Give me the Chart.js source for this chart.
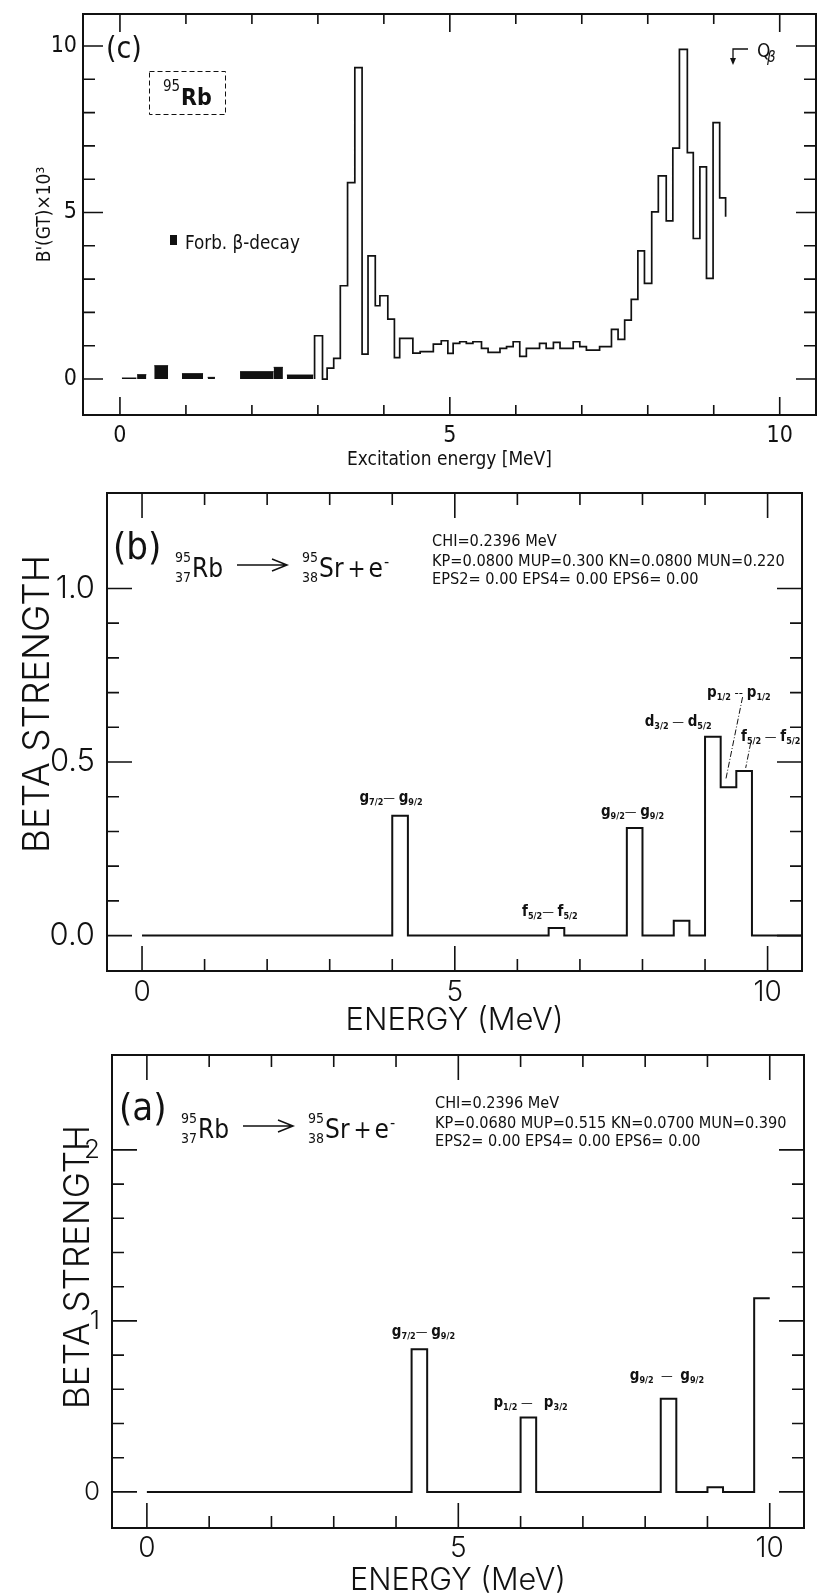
<!DOCTYPE html>
<html>
<head>
<meta charset="utf-8">
<script src="https://cdn.jsdelivr.net/npm/chart.js@4.4.1/dist/chart.umd.min.js"></script>
<style>
  html, body { margin: 0; padding: 0; background: #fff; }
  #page { position: relative; width: 817px; height: 1595px; overflow: hidden; background: #fff; }
  canvas { position: absolute; left: 0; }
</style>
</head>
<body>
<div id="page">
  <canvas id="panelC" width="817" height="480" style="top:0px"></canvas>
  <canvas id="panelB" width="817" height="575" style="top:470px"></canvas>
  <canvas id="panelA" width="817" height="560" style="top:1035px"></canvas>
</div>
<script>
// ---- data ----
const energyTicks = [0, 1, 2, 3, 4, 5, 6, 7, 8, 9, 10];
const energyLabels = [0, 5, 10];

// (c) measured B'(GT) x 10^3, forbidden part as filled blocks
const forbStart = [0.03, 0.26, 0.52, 0.94, 1.33, 1.82, 2.33, 2.53];
const forbEnd = [0.25, 0.40, 0.73, 1.26, 1.44, 2.33, 2.47, 2.93];
const forbStrength = [0.03, 0.13, 0.40, 0.16, 0.05, 0.22, 0.35, 0.12];

const gtEdges = [2.95, 3.07, 3.14, 3.24, 3.34, 3.45, 3.56, 3.67, 3.76, 3.87,
  3.94, 4.06, 4.16, 4.24, 4.44, 4.55, 4.75, 4.87, 4.97, 5.05,
  5.15, 5.25, 5.35, 5.48, 5.58, 5.76, 5.86, 5.96, 6.06, 6.16,
  6.36, 6.46, 6.57, 6.67, 6.87, 6.97, 7.07, 7.27, 7.45, 7.55,
  7.65, 7.75, 7.85, 7.95, 8.06, 8.16, 8.28, 8.38, 8.48, 8.6,
  8.69, 8.79, 8.89, 8.99, 9.09, 9.18];
const gtStrength = [1.3, 0, 0.33, 0.62, 2.8, 5.9, 9.35, 0.75, 3.7, 2.2,
  2.5, 1.8, 0.64, 1.22, 0.78, 0.82, 1.05, 1.15, 0.77, 1.07,
  1.12, 1.07, 1.12, 0.92, 0.8, 0.92, 0.97, 1.12, 0.68, 0.92,
  1.07, 0.92, 1.1, 0.92, 1.12, 0.97, 0.87, 0.97, 1.49, 1.19,
  1.77, 2.39, 3.85, 2.87, 5.02, 6.1, 4.75, 6.93, 9.9, 6.8,
  4.22, 6.37, 3.02, 7.7, 5.44];
const gtEnd = 4.87;
const cTicks = [0, 1, 2, 3, 4, 5, 6, 7, 8, 9, 10];
const cLabels = [0, 5, 10];

// (b) calculation, 0.25 MeV bins
const bEdges = [0, 4.0, 4.25, 6.5, 6.75, 7.75, 8.0, 8.5, 8.75, 9.0, 9.25, 9.5, 9.75, 10.6];
const bStrength = [0, 0.345, 0, 0.022, 0, 0.31, 0, 0.043, 0, 0.573, 0.427, 0.474, 0];
const bTicks = [0, 0.1, 0.2, 0.3, 0.4, 0.5, 0.6, 0.7, 0.8, 0.9, 1.0];
const bLabels = [0, 0.5, 1.0];

// (a) calculation
const aEdges = [0, 4.25, 4.5, 6.0, 6.25, 8.25, 8.5, 9.0, 9.25, 9.75, 10.0];
const aStrength = [0, 0.835, 0, 0.435, 0, 0.545, 0, 0.027, 0, 1.133];
const aTicks = [0, 0.2, 0.4, 0.6, 0.8, 1.0, 1.2, 1.4, 1.6, 1.8, 2.0];
const aLabels = [0, 1, 2];

// ---- helpers ----
const W = 817;
const ink = '#111';
const cFamily = "'Liberation Sans Narrow', 'DejaVu Sans Condensed', sans-serif";
const abFamily = "'DejaVu Sans Condensed', 'DejaVu Sans', sans-serif";
const thinFamily = "Inter, 'DejaVu Sans Condensed', sans-serif";
const thinWeight = 300;

const probe = document.createElement('canvas').getContext('2d');
function fitSize(str, family, width, weight = 'normal') {
  probe.font = `${weight} 100px ${family}`;
  return 100 * width / probe.measureText(str).width;
}

function stepPoints(edges, values, endValue) {
  const pts = [{ x: edges[0], y: 0 }];
  values.forEach((v, i) => pts.push({ x: edges[i], y: v }));
  const last = edges[edges.length - 1];
  pts.push({ x: last, y: values[values.length - 1] });
  if (endValue !== undefined) pts.push({ x: last, y: endValue });
  return pts;
}

function blockPoints(starts, ends, values) {
  const pts = [];
  starts.forEach((s, i) => {
    pts.push({ x: s, y: values[i] }, { x: ends[i], y: values[i] }, { x: ends[i], y: null });
  });
  return pts;
}

function put(ctx, str, x, y, font, align = 'left') {
  ctx.font = font;
  ctx.textAlign = align;
  ctx.textBaseline = 'alphabetic';
  ctx.fillText(str, x, y);
}
function widthOf(ctx, str, font) {
  ctx.font = font;
  return ctx.measureText(str).width;
}
function sideTitle(ctx, str, cx, cy, font) {
  ctx.save();
  ctx.translate(cx, cy);
  ctx.rotate(-Math.PI / 2);
  ctx.font = font;
  ctx.textAlign = 'center';
  ctx.textBaseline = 'middle';
  ctx.fillText(str, 0, 0);
  ctx.restore();
}

// inward ticks on all four sides plus the frame
const frameTicks = {
  id: 'frameTicks',
  afterDatasetsDraw(chart, args, o) {
    const { ctx, chartArea: a } = chart;
    const x = chart.scales.x, y = chart.scales.y;
    const isMajor = (list, v) => list.some(m => Math.abs(m - v) < 1e-6);
    ctx.save();
    ctx.strokeStyle = ink;
    ctx.lineWidth = 2;
    ctx.strokeRect(a.left, a.top, a.right - a.left, a.bottom - a.top);
    ctx.lineWidth = 1.6;
    ctx.beginPath();
    energyTicks.forEach(v => {
      const px = x.getPixelForValue(v);
      const len = isMajor(energyLabels, v) ? o.xLong : o.xShort;
      ctx.moveTo(px, a.bottom); ctx.lineTo(px, a.bottom - len);
      ctx.moveTo(px, a.top); ctx.lineTo(px, a.top + len);
    });
    o.yTicks.forEach(v => {
      const py = y.getPixelForValue(v);
      const len = isMajor(o.yMajor, v) ? o.yLong : o.yShort;
      ctx.moveTo(a.left, py); ctx.lineTo(a.left + len, py);
      ctx.moveTo(a.right, py); ctx.lineTo(a.right - len, py);
    });
    ctx.stroke();
    ctx.restore();
  }
};

function nuclide(ctx, x, base, mass, charge, sym) {
  const small = `14px ${abFamily}`, big = `26px ${abFamily}`;
  put(ctx, mass, x, base - 15, small);
  put(ctx, charge, x, base + 5, small);
  const w = Math.max(widthOf(ctx, mass, small), widthOf(ctx, charge, small));
  put(ctx, sym, x + w + 1, base, big);
  return x + w + 1 + widthOf(ctx, sym, big);
}

function header(ctx, x0, R, tag) {
  put(ctx, tag, x0, R - 18, `38px ${abFamily}`);
  nuclide(ctx, x0 + 62, R, '95', '37', 'Rb');
  const ay = R - 12, ax0 = x0 + 124, ax1 = x0 + 174;
  ctx.lineWidth = 1.5;
  ctx.beginPath();
  ctx.moveTo(ax0, ay); ctx.lineTo(ax1, ay);
  ctx.moveTo(ax1 - 15, ay - 6); ctx.lineTo(ax1, ay); ctx.lineTo(ax1 - 15, ay + 6);
  ctx.stroke();
  const end = nuclide(ctx, x0 + 189, R, '95', '38', 'Sr');
  put(ctx, '+', end + 4, R, `24px ${abFamily}`);
  const ex = end + 4 + widthOf(ctx, '+', `24px ${abFamily}`) + 3;
  put(ctx, 'e', ex, R, `26px ${abFamily}`);
  put(ctx, '-', ex + widthOf(ctx, 'e', `26px ${abFamily}`) + 1, R - 10, `16px ${abFamily}`);
}

function params(ctx, x, bases, lines, width) {
  const size = fitSize(lines[1], abFamily, width);
  lines.forEach((t, i) => put(ctx, t, x, bases[i], `${size}px ${abFamily}`));
}

// orbital pair label like g7/2 — g9/2, centred at (cx, cy)
function orbital(ctx, lab, cx, cy) {
  const big = `bold 15px ${abFamily}`, small = `bold 9px ${abFamily}`, dash = `13px ${abFamily}`;
  const parts = [
    [lab.l[0], big, 0], [lab.l[1], small, 3], [lab.mid, dash, 0],
    [lab.r[0], big, 0], [lab.r[1], small, 3]
  ];
  const total = parts.reduce((s, p) => s + widthOf(ctx, p[0], p[1]), 0);
  let x = cx - total / 2;
  parts.forEach(p => {
    put(ctx, p[0], x, cy + 4 + p[2], p[1]);
    x += widthOf(ctx, p[0], p[1]);
  });
}

function panel(id, o) {
  const canvas = document.getElementById(id);
  const H = canvas.height;
  return new Chart(canvas, {
    type: 'line',
    data: { datasets: o.datasets },
    options: {
      responsive: false,
      animation: false,
      devicePixelRatio: 1,
      events: [],
      layout: { padding: { left: 0, top: o.area.top, right: W - o.area.right, bottom: 0 } },
      elements: { point: { radius: 0, hoverRadius: 0 } },
      plugins: {
        legend: { display: false },
        tooltip: { enabled: false },
        frameTicks: o.frame
      },
      scales: {
        x: {
          type: 'linear', min: -0.56, max: 10.55,
          grid: { display: false, drawTicks: false, tickLength: 0 },
          border: { display: false },
          afterBuildTicks: s => { s.ticks = energyTicks.map(v => ({ value: v })); },
          afterFit: s => { s.height = H - o.area.bottom; s.paddingLeft = 0; s.paddingRight = 0; },
          ticks: {
            autoSkip: false, maxRotation: 0, minRotation: 0,
            padding: o.xTickPad, color: ink, font: o.xTickFont,
            callback: v => energyLabels.includes(v) ? String(v) : ''
          },
          title: {
            display: true, text: o.xTitle, color: ink, font: o.xTitleFont,
            padding: { top: 0, bottom: o.xTitlePad }
          }
        },
        y: {
          type: 'linear', min: o.yMin, max: o.yMax,
          grid: { display: false, drawTicks: false, tickLength: 0 },
          border: { display: false },
          afterBuildTicks: s => { s.ticks = o.frame.yTicks.map(v => ({ value: v })); },
          afterFit: s => { s.width = o.area.left; s.paddingTop = 0; s.paddingBottom = 0; },
          ticks: {
            autoSkip: false, padding: o.yTickPad, color: ink, font: o.yTickFont,
            callback: v => o.frame.yMajor.some(l => Math.abs(l - v) < 1e-6) ? o.yFormat(v) : ''
          },
          title: {
            display: !!o.yTitle, text: o.yTitle || '', color: ink, font: o.yTitleFont,
            padding: { top: o.yTitlePad || 0, bottom: 0 }
          }
        }
      }
    },
    plugins: [frameTicks, o.notes]
  });
}

// ---- panel (c) ----
const cXTitle = 'Excitation energy [MeV]';
const cXSize = fitSize(cXTitle, cFamily, 205);
const cYTitle = "B'(GT)×10³";
const cYSize = 19;
const forbLabelSize = fitSize('Forb. β-decay', cFamily, 115);

panel('panelC', {
  area: { left: 83, top: 14, right: 816, bottom: 415 },
  yMin: -1.08, yMax: 10.96,
  frame: { yTicks: cTicks, yMajor: cLabels, xLong: 18, xShort: 10, yLong: 20, yShort: 12 },
  xTickFont: { family: cFamily, size: 23 }, xTickPad: 7,
  yTickFont: { family: cFamily, size: 23 }, yTickPad: 6,
  yFormat: v => String(v),
  xTitle: cXTitle, xTitleFont: { family: cFamily, size: cXSize }, xTitlePad: 20 - 0.6 * cXSize,
  yTitle: cYTitle, yTitleFont: { family: cFamily, size: cYSize }, yTitlePad: 45 - 0.6 * cYSize,
  datasets: [
    { data: blockPoints(forbStart, forbEnd, forbStrength), borderColor: ink, borderWidth: 1,
      backgroundColor: ink, fill: 'origin', spanGaps: false },
    { data: stepPoints(gtEdges, gtStrength, gtEnd), borderColor: ink, borderWidth: 1.7,
      fill: false, stepped: 'before' }
  ],
  notes: {
    id: 'cNotes',
    afterDraw(chart) {
      const ctx = chart.ctx;
      ctx.save();
      ctx.fillStyle = ink; ctx.strokeStyle = ink;
      put(ctx, '(c)', 106, 58, `30px ${cFamily}`);
      ctx.lineWidth = 1;
      ctx.setLineDash([5, 3]);
      ctx.strokeRect(149.5, 71.5, 76, 43);
      ctx.setLineDash([]);
      put(ctx, '95', 163, 91, `15px ${cFamily}`);
      put(ctx, 'Rb', 181, 105, `bold 23px ${cFamily}`);
      ctx.fillRect(170, 235, 7, 10);
      put(ctx, 'Forb. β-decay', 185, 249, `${forbLabelSize}px ${cFamily}`);
      ctx.lineWidth = 1.3;
      ctx.beginPath();
      ctx.moveTo(748, 49); ctx.lineTo(733, 49); ctx.lineTo(733, 59);
      ctx.stroke();
      ctx.beginPath();
      ctx.moveTo(730, 58); ctx.lineTo(736, 58); ctx.lineTo(733, 65); ctx.closePath();
      ctx.fill();
      put(ctx, 'Q', 757, 57, `19px ${cFamily}`);
      put(ctx, 'β', 767, 62, `italic 15px ${cFamily}`);
      ctx.restore();
    }
  }
});

// ---- panel (b) ----
const energyTitle = 'ENERGY (MeV)';
const betaTitle = 'BETA STRENGTH';
const bXSize = fitSize(energyTitle, thinFamily, 218, thinWeight);
const bYSize = fitSize(betaTitle, thinFamily, 298, thinWeight);

const bOrbitals = [
  { l: ['g', '7/2'], mid: '— ', r: ['g', '9/2'], e: 3.98, v: 0.396 },
  { l: ['f', '5/2'], mid: '— ', r: ['f', '5/2'], e: 6.52, v: 0.068 },
  { l: ['g', '9/2'], mid: '— ', r: ['g', '9/2'], e: 7.84, v: 0.356 },
  { l: ['d', '3/2'], mid: ' — ', r: ['d', '5/2'], e: 8.57, v: 0.615 },
  { l: ['p', '1/2'], mid: ' -- ', r: ['p', '1/2'], e: 9.54, v: 0.70 },
  { l: ['f', '5/2'], mid: ' — ', r: ['f', '5/2'], e: 10.05, v: 0.572 }
];
const bLeaders = [[9.60, 0.687, 9.33, 0.448], [9.73, 0.555, 9.65, 0.483]];

panel('panelB', {
  area: { left: 107, top: 23, right: 802, bottom: 501 },
  yMin: -0.102, yMax: 1.275,
  frame: { yTicks: bTicks, yMajor: bLabels, xLong: 25, xShort: 12, yLong: 25, yShort: 12 },
  xTickFont: { family: thinFamily, size: 28, weight: thinWeight }, xTickPad: 5,
  yTickFont: { family: thinFamily, size: 31, weight: thinWeight }, yTickPad: 12,
  yFormat: v => v.toFixed(1),
  xTitle: energyTitle, xTitleFont: { family: thinFamily, size: bXSize, weight: thinWeight },
  xTitlePad: 24 - 0.6 * bXSize,
  datasets: [
    { data: stepPoints(bEdges, bStrength), borderColor: ink, borderWidth: 2, fill: false, stepped: 'before' }
  ],
  notes: {
    id: 'bNotes',
    afterDraw(chart) {
      const ctx = chart.ctx, x = chart.scales.x, y = chart.scales.y;
      ctx.save();
      ctx.fillStyle = ink; ctx.strokeStyle = ink;
      sideTitle(ctx, betaTitle, 38, 234, `${thinWeight} ${bYSize}px ${thinFamily}`);
      header(ctx, 113, 107, '(b)');
      params(ctx, 432, [76, 96, 114], ['CHI=0.2396 MeV',
        'KP=0.0800 MUP=0.300 KN=0.0800 MUN=0.220',
        'EPS2= 0.00 EPS4= 0.00 EPS6= 0.00'], 353);
      bOrbitals.forEach(o => orbital(ctx, o, x.getPixelForValue(o.e), y.getPixelForValue(o.v)));
      ctx.lineWidth = 1;
      ctx.setLineDash([6, 2, 1, 2]);
      ctx.beginPath();
      bLeaders.forEach(l => {
        ctx.moveTo(x.getPixelForValue(l[0]), y.getPixelForValue(l[1]));
        ctx.lineTo(x.getPixelForValue(l[2]), y.getPixelForValue(l[3]));
      });
      ctx.stroke();
      ctx.restore();
    }
  }
});

// ---- panel (a) ----
const aXSize = fitSize(energyTitle, thinFamily, 216, thinWeight);
const aYSize = fitSize(betaTitle, thinFamily, 284, thinWeight);

const aOrbitals = [
  { l: ['g', '7/2'], mid: '— ', r: ['g', '9/2'], e: 4.44, v: 0.937 },
  { l: ['p', '1/2'], mid: ' —   ', r: ['p', '3/2'], e: 6.16, v: 0.52 },
  { l: ['g', '9/2'], mid: '  —  ', r: ['g', '9/2'], e: 8.35, v: 0.675 }
];

panel('panelA', {
  area: { left: 112, top: 20, right: 804, bottom: 493 },
  yMin: -0.211, yMax: 2.555,
  frame: { yTicks: aTicks, yMajor: aLabels, xLong: 25, xShort: 12, yLong: 25, yShort: 12 },
  xTickFont: { family: thinFamily, size: 28, weight: thinWeight }, xTickPad: 4,
  yTickFont: { family: thinFamily, size: 26, weight: thinWeight }, yTickPad: 12,
  yFormat: v => String(v),
  xTitle: energyTitle, xTitleFont: { family: thinFamily, size: aXSize, weight: thinWeight },
  xTitlePad: 14 - 0.6 * aXSize,
  datasets: [
    { data: stepPoints(aEdges, aStrength), borderColor: ink, borderWidth: 2, fill: false, stepped: 'before' }
  ],
  notes: {
    id: 'aNotes',
    afterDraw(chart) {
      const ctx = chart.ctx, x = chart.scales.x, y = chart.scales.y;
      ctx.save();
      ctx.fillStyle = ink; ctx.strokeStyle = ink;
      sideTitle(ctx, betaTitle, 78, 232, `${thinWeight} ${aYSize}px ${thinFamily}`);
      header(ctx, 119, 103, '(a)');
      params(ctx, 435, [73, 93, 111], ['CHI=0.2396 MeV',
        'KP=0.0680 MUP=0.515 KN=0.0700 MUN=0.390',
        'EPS2= 0.00 EPS4= 0.00 EPS6= 0.00'], 352);
      aOrbitals.forEach(o => orbital(ctx, o, x.getPixelForValue(o.e), y.getPixelForValue(o.v)));
      ctx.restore();
    }
  }
});
</script>
</body>
</html>
